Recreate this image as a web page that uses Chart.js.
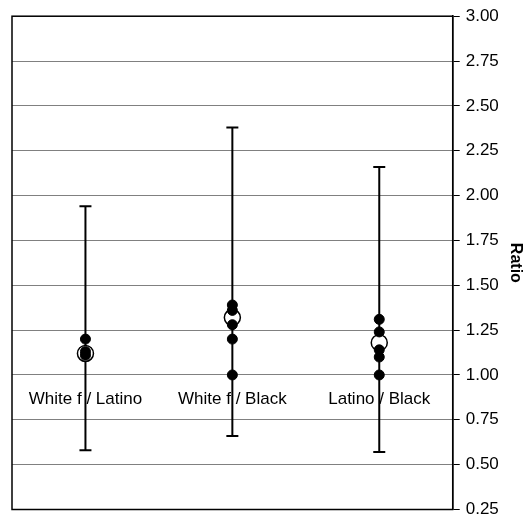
<!DOCTYPE html>
<html>
<head>
<meta charset="utf-8">
<script src="https://cdn.jsdelivr.net/npm/chart.js@4"></script>
<style>
  html, body { margin: 0; padding: 0; background: #fff; }
</style>
</head>
<body>
<canvas id="ratioChart" width="529" height="519"></canvas>
<script>
// chart data
const categories = ['White f / Latino', 'White f / Black', 'Latino / Black'];
const lowValues = [0.58, 0.66, 0.57];
const highValues = [1.94, 2.38, 2.16];
const meanValues = [1.12, 1.32, 1.18];
const pointValues = [
  [1.20, 1.13, 1.11],
  [1.39, 1.36, 1.28, 1.20, 1.00],
  [1.31, 1.24, 1.14, 1.10, 1.00]
];
const yTicks = [0.25, 0.50, 0.75, 1.00, 1.25, 1.50, 1.75, 2.00, 2.25, 2.50, 2.75, 3.00];

Chart.defaults.font.family = '"Liberation Sans", Arial, sans-serif';
Chart.defaults.font.size = 17;
Chart.defaults.color = '#000';

// black frame round the plot area
const plotBorder = {
  id: 'plotBorder',
  beforeDatasetsDraw(chart) {
    const a = chart.chartArea;
    const c = chart.ctx;
    c.save();
    c.strokeStyle = '#000';
    c.lineWidth = 1.5;
    c.strokeRect(a.left, a.top, a.right - a.left, a.bottom - a.top);
    c.restore();
  }
};

// error bars, one line dataset per category
const errorSets = categories.map((cat, i) => ({
  data: [{ x: cat, y: lowValues[i] }, { x: cat, y: highValues[i] }],
  borderColor: '#000',
  borderWidth: 2,
  pointStyle: 'line',
  pointRadius: 6,
  pointBorderWidth: 2,
  pointBorderColor: '#000',
  order: 3
}));

const meanSet = {
  data: categories.map((cat, i) => ({ x: cat, y: meanValues[i] })),
  showLine: false,
  pointRadius: 8,
  pointBackgroundColor: '#fff',
  pointBorderColor: '#000',
  pointBorderWidth: 1.5,
  order: 2
};

const dotSet = {
  data: pointValues.flatMap((vals, i) => vals.map(v => ({ x: categories[i], y: v }))),
  showLine: false,
  pointRadius: 5,
  pointBackgroundColor: '#000',
  pointBorderColor: '#000',
  pointBorderWidth: 1,
  order: 1
};

new Chart(document.getElementById('ratioChart'), {
  type: 'line',
  data: { labels: categories, datasets: [...errorSets, meanSet, dotSet] },
  options: {
    responsive: false,
    animation: false,
    layout: { padding: { left: 12, top: 15, right: 0, bottom: 0 } },
    plugins: { legend: { display: false }, tooltip: { enabled: false } },
    scales: {
      x: {
        type: 'category',
        position: { y: 1 },
        offset: true,
        afterFit: s => { s.paddingTop = 0; s.paddingBottom = 0; },
        grid: { display: false, drawTicks: false },
        border: { display: false },
        ticks: { padding: 14, maxRotation: 0, autoSkip: false }
      },
      y: {
        type: 'linear',
        position: 'right',
        min: 0.25,
        max: 3,
        afterBuildTicks: s => { s.ticks = yTicks.map(v => ({ value: v })); },
        afterFit: s => { s.paddingBottom = 6; },
        ticks: { padding: 6, callback: v => v.toFixed(2) },
        grid: { color: '#808080', lineWidth: 1, tickColor: '#000', tickLength: 7 },
        border: { color: '#000', width: 1.5 },
        title: { display: true, text: 'Ratio', font: { weight: 'bold', size: 16 }, padding: { top: 4, bottom: 1 } }
      }
    }
  },
  plugins: [plotBorder]
});
</script>
</body>
</html>
